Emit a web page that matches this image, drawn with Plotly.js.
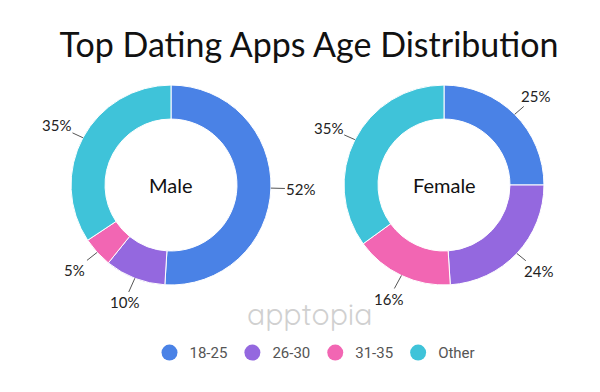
<!DOCTYPE html>
<html>
<head>
<meta charset="utf-8">
<script src="https://cdn.plot.ly/plotly-3.0.1.min.js"></script>
<style>html,body{margin:0;padding:0;background:#fff;}#chart{width:600px;height:392px;}</style>
</head>
<body>
<div id="chart"></div>
<script>
const categories = ["18-25", "26-30", "31-35", "Other"];
const maleValues = [52, 10, 5, 35];
const femaleValues = [25, 24, 16, 35];
const groups = ["Male", "Female"];
const colors = ["#4a82e6", "#9468df", "#f266b3", "#3fc3d9"];

const W = 600, H = 392;
const domains = [
  {x: [0.118, 0.452], y: [0.273, 0.783]},
  {x: [0.573, 0.907], y: [0.273, 0.783]}
];
const seriesList = [maleValues, femaleValues];

const data = [];
const annotations = [];
seriesList.forEach((vals, k) => {
  const dom = domains[k];
  data.push({
    type: "pie", hole: 0.66, sort: false, direction: "clockwise", rotation: 0,
    labels: categories, values: vals, textinfo: "none",
    marker: {colors: colors, line: {color: "#ffffff", width: 1}},
    domain: dom, showlegend: false, hoverinfo: "label+value"
  });
  // centre label
  const cx = (dom.x[0] + dom.x[1]) / 2, cy = (dom.y[0] + dom.y[1]) / 2;
  annotations.push({text: groups[k], x: cx, y: cy, xref: "paper", yref: "paper",
    xanchor: "center", yanchor: "middle", showarrow: false,
    font: {family: "Lato", size: 20, color: "#111"}});
  // percentage labels with leader lines at each slice's mid angle
  const rPx = Math.min((dom.x[1] - dom.x[0]) * W, (dom.y[1] - dom.y[0]) * H) / 2;
  const total = vals.reduce((a, b) => a + b, 0);
  let cum = 0;
  vals.forEach(v => {
    const th = 2 * Math.PI * (cum + v / 2) / total;
    cum += v;
    const s = Math.sin(th), c = Math.cos(th);
    annotations.push({
      text: v + "%", xref: "paper", yref: "paper",
      x: cx + (rPx * s) / W, y: cy + (rPx * c) / H,
      ax: 30 * s, ay: -26 * c,
      showarrow: true, arrowhead: 0, arrowwidth: 1, arrowcolor: "#555", standoff: 0,
      font: {family: "Lato", size: 15, color: "#222"}
    });
  });
});
annotations.push({text: "apptopia", x: 0.515, y: 0.2, xref: "paper", yref: "paper",
  xanchor: "center", yanchor: "middle", showarrow: false,
  font: {family: "Quicksand, Nunito, Noto Sans", size: 30, color: "#d0d0d0"}});

// legend entries with circle markers
categories.forEach((c, i) => {
  data.push({
    type: "scatter", mode: "markers", x: [null], y: [null], name: c,
    marker: {color: colors[i], size: 18, symbol: "circle"},
    showlegend: true, hoverinfo: "skip"
  });
});

const layout = {
  width: W, height: H,
  margin: {l: 0, r: 0, t: 0, b: 0},
  paper_bgcolor: "#ffffff", plot_bgcolor: "#ffffff",
  title: {text: "Top Dating Apps Age Distribution", font: {family: "Lato", size: 34, color: "#111"},
          x: 0.515, xanchor: "center", y: 0.885, yanchor: "middle"},
  xaxis: {visible: false}, yaxis: {visible: false},
  legend: {orientation: "h", x: 0.525, xanchor: "center", y: 0.10, yanchor: "middle",
           font: {family: "Roboto", size: 15, color: "#555"}, itemsizing: "trace", traceorder: "normal"},
  annotations: annotations
};
Plotly.newPlot("chart", data, layout, {displayModeBar: false, staticPlot: true});
</script>
</body>
</html>
